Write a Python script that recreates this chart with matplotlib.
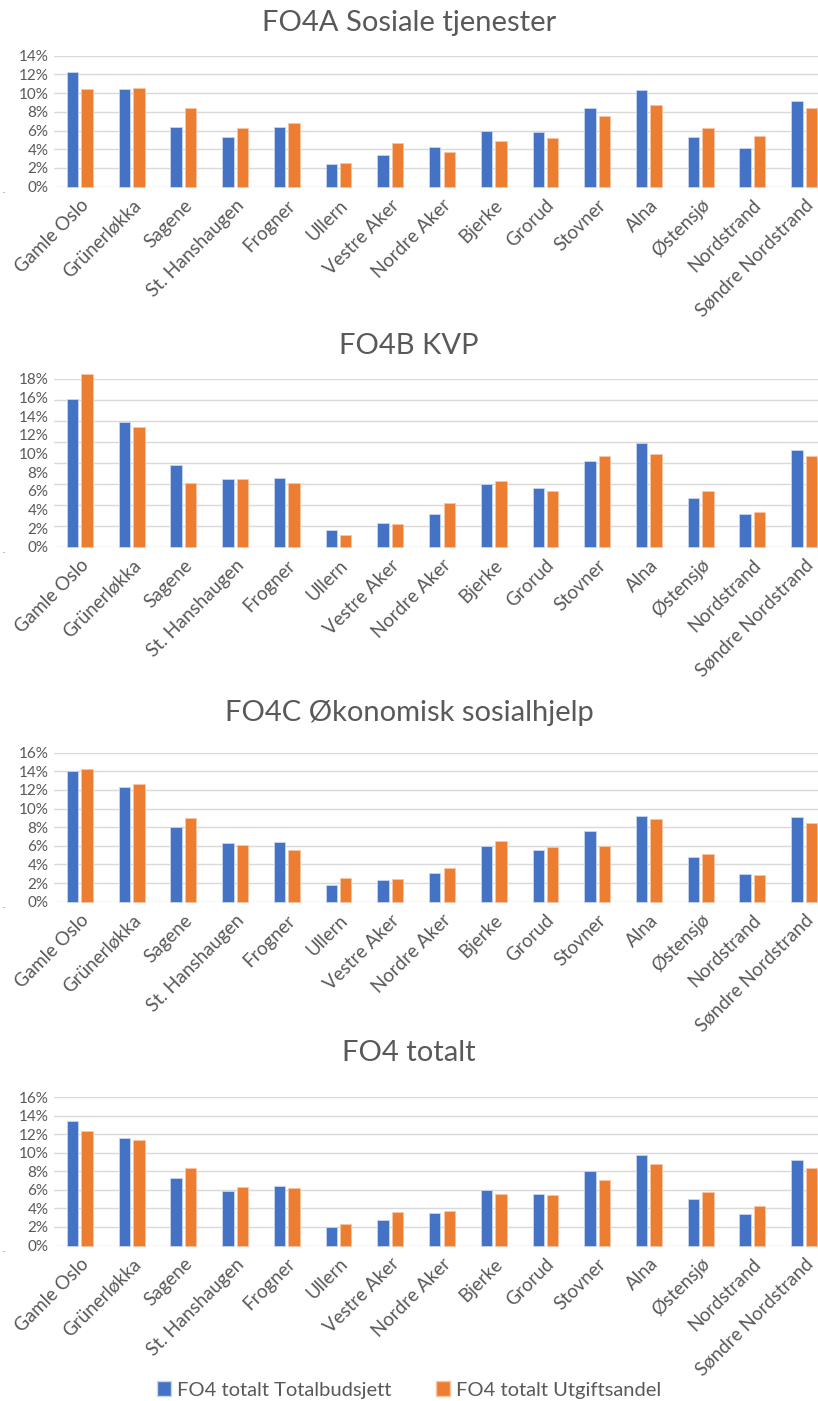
import numpy as np
import matplotlib
matplotlib.use("Agg")
import matplotlib.pyplot as plt
from matplotlib.patches import Patch

plt.rcParams['font.family'] = ['Lato', 'DejaVu Sans']

bydeler = ["Gamle Oslo", "Grünerløkka", "Sagene", "St. Hanshaugen", "Frogner",
           "Ullern", "Vestre Aker", "Nordre Aker", "Bjerke", "Grorud", "Stovner",
           "Alna", "Østensjø", "Nordstrand", "Søndre Nordstrand"]

# FO4A Sosiale tjenester (prosent)
fo4a_budsjett = [12.3, 10.4, 6.4, 5.3, 6.4, 2.4, 3.4, 4.2, 6.0, 5.8, 8.4, 10.3, 5.3, 4.1, 9.2]
fo4a_utgift = [10.4, 10.5, 8.4, 6.3, 6.8, 2.5, 4.7, 3.7, 4.9, 5.2, 7.6, 8.7, 6.3, 5.4, 8.4]

# FO4B KVP
fo4b_budsjett = [15.9, 13.4, 8.8, 7.3, 7.4, 1.8, 2.5, 3.5, 6.7, 6.3, 9.2, 11.1, 5.2, 3.5, 10.4]
fo4b_utgift = [18.5, 12.8, 6.8, 7.3, 6.8, 1.3, 2.4, 4.7, 7.0, 6.0, 9.7, 10.0, 6.0, 3.7, 9.7]

# FO4C Økonomisk sosialhjelp
fo4c_budsjett = [14.0, 12.3, 8.0, 6.3, 6.4, 1.8, 2.3, 3.1, 6.0, 5.6, 7.6, 9.2, 4.8, 3.0, 9.1]
fo4c_utgift = [14.2, 12.6, 9.0, 6.1, 5.5, 2.5, 2.4, 3.6, 6.5, 5.9, 6.0, 8.9, 5.1, 2.9, 8.4]

# FO4 totalt
fo4_budsjett = [13.4, 11.6, 7.3, 5.9, 6.4, 2.0, 2.7, 3.5, 6.0, 5.6, 8.0, 9.8, 5.0, 3.4, 9.2]
fo4_utgift = [12.4, 11.4, 8.4, 6.3, 6.25, 2.3, 3.6, 3.7, 5.6, 5.4, 7.1, 8.8, 5.8, 4.3, 8.4]

titles = ["FO4A Sosiale tjenester", "FO4B KVP", "FO4C Økonomisk sosialhjelp", "FO4 totalt"]
series = [(fo4a_budsjett, fo4a_utgift), (fo4b_budsjett, fo4b_utgift),
          (fo4c_budsjett, fo4c_utgift), (fo4_budsjett, fo4_utgift)]
ymax = [14, 18, 16, 16]
legend_labels = ["FO4 totalt Totalbudsjett", "FO4 totalt Utgiftsandel"]

BLUE = "#4472C4"
ORANGE = "#ED7D31"
GREY = "#595959"
GRID = "#D9D9D9"

W, H = 818, 1401
fig = plt.figure(figsize=(W / 100, H / 100), dpi=100)
fig.patch.set_facecolor("white")

# (top px, bottom px) for each panel's plot area
panel_px = [(55.6, 186.7), (379, 546.7), (752.7, 901.7), (1097.3, 1245.5)]
title_px = [23, 346, 713, 1053]
left_px, right_px = 54, 830

x = np.arange(len(bydeler))
bw = 0.22
off = 0.14

for i, (title, (b, u)) in enumerate(zip(titles, series)):
    top, bot = panel_px[i]
    ax = fig.add_axes([left_px / W, 1 - bot / H, (right_px - left_px) / W, (bot - top) / H])
    ax.bar(x - off, b, bw, color=BLUE, edgecolor="#C9D6EE", linewidth=0.6, zorder=3, clip_on=False)
    ax.bar(x + off, u, bw, color=ORANGE, edgecolor="#F6C6A6", linewidth=0.6, zorder=3, clip_on=False)
    ax.set_xlim(-0.5, len(bydeler) - 0.5)
    ax.set_ylim(0, ymax[i])

    if i == 1:
        # the KVP panel has labels every 2 % but gridlines at 8 equal steps
        grid_vals = np.linspace(0, ymax[i], 9)
    else:
        grid_vals = np.arange(0, ymax[i] + 0.1, 2)
    for g in grid_vals:
        ax.axhline(g, color=GRID, linewidth=1.0, zorder=1)

    ticks = np.arange(0, ymax[i] + 0.1, 2)
    ax.set_yticks(ticks)
    ax.set_yticklabels([f"{int(t)}%" for t in ticks], fontsize=11, color=GREY)
    ax.set_xticks(x)
    ax.set_xticklabels(bydeler, rotation=45, ha="right", rotation_mode="anchor",
                       fontsize=13.5, color=GREY)
    ax.tick_params(axis="both", length=0)
    ax.tick_params(axis="y", pad=4)
    ax.tick_params(axis="x", pad=7)
    for s in ax.spines.values():
        s.set_visible(False)

    fig.text(0.5, 1 - title_px[i] / H, title, ha="center", va="center",
             fontsize=21, color=GREY)
    fig.text(3 / W, 1 - (bot + 4) / H, ".", fontsize=6, color=GREY, ha="left", va="center")

handles = [Patch(facecolor=BLUE, edgecolor="#C9D6EE"), Patch(facecolor=ORANGE, edgecolor="#F6C6A6")]
fig.legend(handles, legend_labels, loc="center", bbox_to_anchor=(0.5, 1 - 1390 / H),
           ncol=2, frameon=False, fontsize=14.5, labelcolor=GREY,
           handlelength=0.7, handleheight=0.7, handletextpad=0.3, columnspacing=2.2)

fig.savefig("out.png", dpi=100, facecolor="white")
